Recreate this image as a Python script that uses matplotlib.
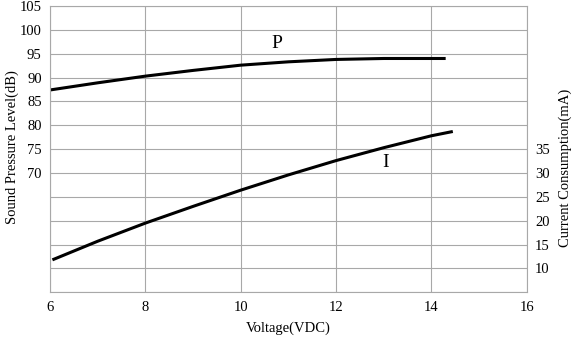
import numpy as np
import matplotlib.pyplot as plt

plt.rcParams['font.family'] = ['Liberation Serif', 'DejaVu Serif']

# Sound pressure level curve (P), left axis
volt_p = [6, 7, 8, 9, 10, 11, 12, 13, 14, 14.3]
spl_p = [87.4, 88.9, 90.3, 91.5, 92.6, 93.3, 93.8, 94.0, 94.0, 94.0]

# Current consumption curve (I), right axis
volt_i = [6.05, 7, 8, 9, 10, 11, 12, 13, 14, 14.45]
cur_i = [11.8, 15.7, 19.5, 23.0, 26.4, 29.6, 32.6, 35.3, 37.8, 38.7]

x_ticks = [6, 8, 10, 12, 14, 16]
left_ticks = list(range(45, 106, 5))
left_labels = [str(t) if t >= 70 else '' for t in left_ticks]
right_ticks = [10, 15, 20, 25, 30, 35]

fig = plt.figure(figsize=(5.73, 3.39), dpi=100)
ax = fig.add_axes([0.0873, 0.1378, 0.9192 - 0.0873, 0.9823 - 0.1378])

ax.plot(volt_p, spl_p, color='black', lw=2.2, solid_capstyle='butt')
ax.set_xlim(6, 16)
ax.set_ylim(45, 105)
ax.set_xticks(x_ticks)
ax.set_yticks(left_ticks)
ax.set_yticklabels(left_labels)
ax.grid(True, color='#a8a8a8', lw=0.8)
ax.tick_params(length=0, labelsize=10.5, pad=6)
for s in ax.spines.values():
    s.set_color('#a8a8a8')
    s.set_linewidth(0.8)
ax.set_xlabel('Voltage(VDC)', fontsize=10.5, labelpad=6)
ax.set_ylabel('Sound Pressure Level(dB)', fontsize=10.5, va='center')
ax.yaxis.set_label_coords(-0.08, 0.507)

ax2 = ax.twinx()
ax2.plot(volt_i, cur_i, color='black', lw=2.2, solid_capstyle='butt')
ax2.set_ylim(5, 65)
ax2.set_yticks(right_ticks)
ax2.tick_params(length=0, labelsize=10.5, pad=6)
for s in ax2.spines.values():
    s.set_visible(False)
ax2.set_ylabel('Current Consumption(mA)', fontsize=10.5, va='center')
ax2.yaxis.set_label_coords(1.08, 0.434)

ax.text(10.76, 97.2, 'P', fontsize=14, ha='center', va='center')
ax.text(13.04, 72.1, 'I', fontsize=14, ha='center', va='center')

fig.savefig('out.png', dpi=100)
